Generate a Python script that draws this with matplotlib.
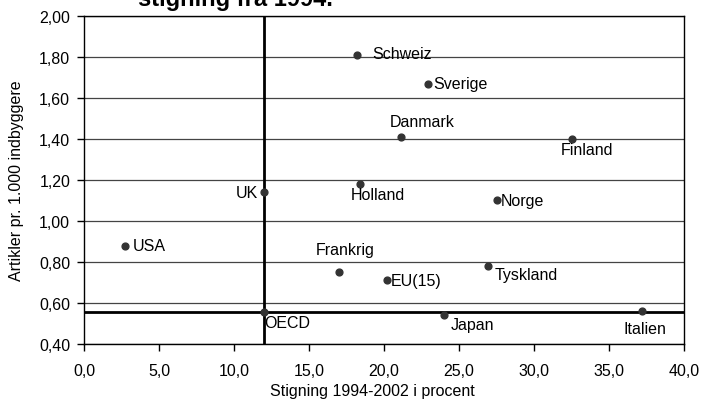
import numpy as np
import matplotlib.pyplot as plt
from matplotlib.ticker import FuncFormatter

plt.rcParams['font.family'] = ['Liberation Sans', 'DejaVu Sans']

# stigning i procent 1994-2002 og artikler pr. 1.000 indbyggere
lande = ["Schweiz", "Sverige", "Danmark", "Finland", "Holland", "UK", "Norge",
         "USA", "Frankrig", "Tyskland", "EU(15)", "OECD", "Japan", "Italien"]
stigning = [18.2, 22.9, 21.1, 32.5, 18.4, 12.0, 27.5, 2.7, 17.0, 26.9, 20.2, 12.0, 24.0, 37.2]
artikler = [1.81, 1.67, 1.41, 1.40, 1.18, 1.14, 1.10, 0.88, 0.75, 0.78, 0.71, 0.555, 0.54, 0.56]

oecd_x = 12.0
oecd_y = 0.555

# label placering (offset i punkter, ha, va)
placering = {
    "Schweiz": (11, 1, 'left', 'center'),
    "Sverige": (4, 0, 'left', 'center'),
    "Danmark": (-8, 6, 'left', 'bottom'),
    "Finland": (-8, -2, 'left', 'top'),
    "Holland": (-7, -2, 'left', 'top'),
    "UK": (-4, 0, 'right', 'center'),
    "Norge": (3, 0, 'left', 'center'),
    "USA": (6, 0, 'left', 'center'),
    "Frankrig": (-17, 11, 'left', 'bottom'),
    "Tyskland": (5, -1, 'left', 'top'),
    "EU(15)": (3, 0, 'left', 'center'),
    "OECD": (0, -2, 'left', 'top'),
    "Japan": (5, -1, 'left', 'top'),
    "Italien": (-13, -7, 'left', 'top'),
}

fig = plt.figure(figsize=(7.02, 4.06), dpi=100)
ax = fig.add_axes([0.1197, 0.1503, 0.8547, 0.8078])

ax.set_xlim(0, 40)
ax.set_ylim(0.4, 2.0)
ax.set_xticks(np.arange(0, 40.1, 5))
ax.set_yticks(np.arange(0.4, 2.01, 0.2))
ax.xaxis.set_major_formatter(FuncFormatter(lambda v, p: f"{v:.1f}".replace(".", ",")))
ax.yaxis.set_major_formatter(FuncFormatter(lambda v, p: f"{v:.2f}".replace(".", ",")))
ax.tick_params(direction='out', length=5, width=1, color='black', labelsize=11.5)
ax.tick_params(axis='x', pad=9)
ax.tick_params(axis='y', pad=5)

ax.grid(axis='y', color='#444444', linewidth=0.9)
ax.set_axisbelow(True)
for s in ax.spines.values():
    s.set_color('black')
    s.set_linewidth(1)

ax.axvline(oecd_x, color='black', linewidth=2, zorder=2)
ax.axhline(oecd_y, color='black', linewidth=2, zorder=2)

ax.scatter(stigning, artikler, s=24, color='#333333', zorder=3)
for navn, x, y in zip(lande, stigning, artikler):
    dx, dy, ha, va = placering[navn]
    ax.annotate(navn, (x, y), xytext=(dx, dy), textcoords='offset points',
                ha=ha, va=va, fontsize=11.5)

ax.set_xlabel("Stigning 1994-2002 i procent", fontsize=11.5)
ax.xaxis.set_label_coords(0.48, -0.12)
ax.set_ylabel("Artikler pr. 1.000 indbyggere", fontsize=11.5)
ax.yaxis.set_label_coords(-0.1, 0.5)

fig.text(0.335, 1 - 6 / 406, "stigning fra 1994.", fontsize=17, fontweight='bold',
         ha='center', va='baseline')

fig.savefig("out.png", dpi=100)
